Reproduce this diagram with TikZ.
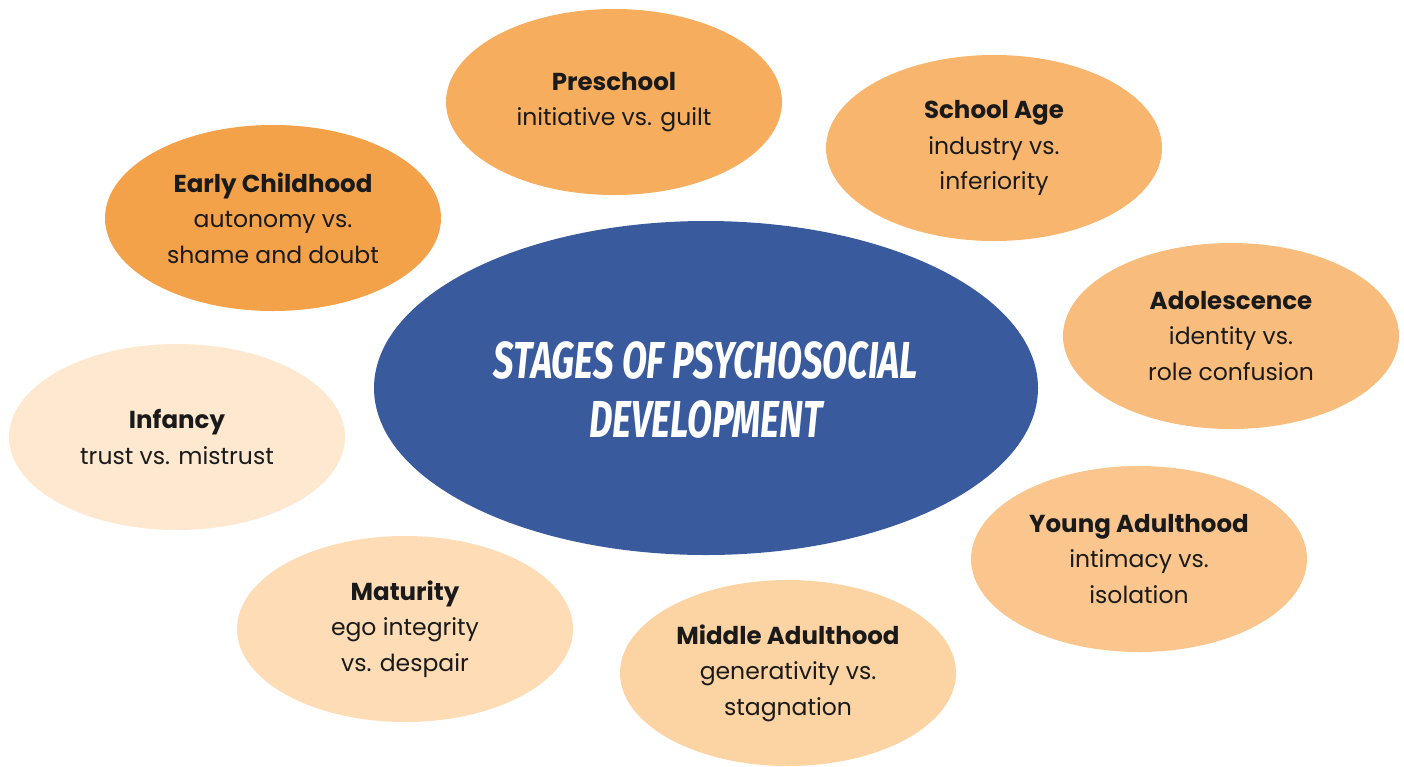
\documentclass[tikz,border=0pt]{standalone}
\usepackage{fontspec}
\setmainfont{Poppins}
\newfontfamily\titlefont{Fira Sans}
\usetikzlibrary{shapes.geometric}
\definecolor{hubblue}{HTML}{3A5A9E}
\definecolor{earlycol}{HTML}{F4A24A}
\definecolor{precol}{HTML}{F6AD5E}
\definecolor{schoolcol}{HTML}{F7B56E}
\definecolor{adolcol}{HTML}{F8BD7C}
\definecolor{youngcol}{HTML}{FAC68E}
\definecolor{midcol}{HTML}{FCD3A2}
\definecolor{matcol}{HTML}{FDDCB6}
\definecolor{infcol}{HTML}{FEE8CF}
\definecolor{ink}{HTML}{1A1A1A}
\newcommand\stagename[1]{\textbf{\fontsize{24.5}{35.5}\selectfont #1}}
\begin{document}
\begin{tikzpicture}[x=1pt,y=-1pt,
    every node/.style={ellipse,inner sep=0pt,align=center,text=ink,
      minimum width=336pt,minimum height=186pt,
      font=\fontsize{23.5}{35.5}\selectfont}]
        \tikzset{stage/.style = {fill=#1}}
        \useasboundingbox (0,0) rectangle (1404,766);
        \node[fill=hubblue,minimum width=664pt,minimum height=334pt,text=white,
          font=\titlefont\bfseries\itshape\fontsize{52}{59}\selectfont] (hub) at (706,388)
          {\raisebox{-8pt}[\height][\depth]{\scalebox{0.7}[1]{\begin{tabular}{@{}c@{}}STAGES OF PSYCHOSOCIAL\\DEVELOPMENT\end{tabular}}}};
        
        \node[stage=precol] (pre) at (614,102) {\stagename{Preschool}\\initiative vs. guilt};
        \node[stage=schoolcol] (school) at (994,148) {\stagename{School Age}\\industry vs.\\inferiority};
        \node[stage=earlycol] (early) at (273,218) {\stagename{Early Childhood}\\autonomy vs.\\shame and doubt};
        \node[stage=adolcol] (adol) at (1231,336) {\stagename{Adolescence}\\identity vs.\\role confusion};
        \node[stage=infcol] (inf) at (177,437) {\stagename{Infancy}\\trust vs. mistrust};
        \node[stage=youngcol] (young) at (1139,559) {\stagename{Young Adulthood}\\intimacy vs.\\isolation};
        \node[stage=matcol] (mat) at (405,629) {\stagename{Maturity}\\ego integrity\\vs. despair};
        \node[stage=midcol] (mid) at (788,673) {\stagename{Middle Adulthood}\\generativity vs.\\stagnation};
\end{tikzpicture}
\end{document}
